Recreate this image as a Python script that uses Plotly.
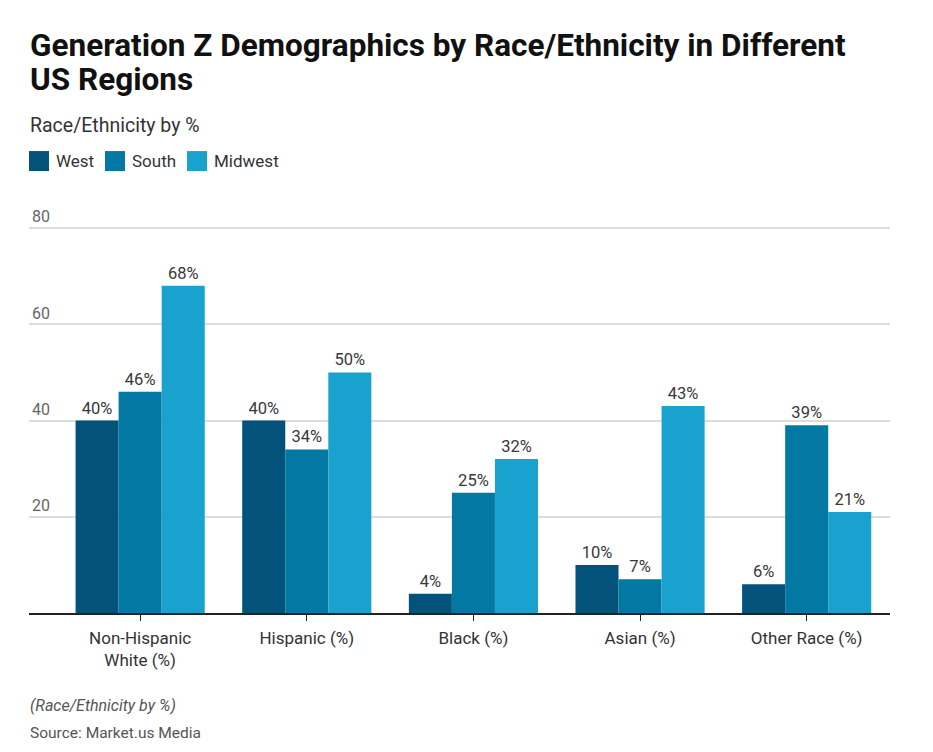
import plotly.graph_objects as go

categories = ["Non-Hispanic<br>White (%)", "Hispanic (%)", "Black (%)", "Asian (%)", "Other Race (%)"]
west = [40, 40, 4, 10, 6]
south = [46, 34, 25, 7, 39]
midwest = [68, 50, 32, 43, 21]
series_names = ["West", "South", "Midwest"]
colors = ["#02527A", "#0278A3", "#19A2CE"]
y_ticks = [20, 40, 60, 80]

W, H = 933, 752
L, R, B = 29, 43, 139
ymax = 85
ppu = 385 / 80
T = H - B - ymax * ppu
ph = H - T - B
pw = W - L - R

def py(pix):
    return (H - B - pix) / ph

def px(pix):
    return (pix - L) / pw

fig = go.Figure()
for name, vals, col in zip(series_names, [west, south, midwest], colors):
    fig.add_trace(go.Bar(
        x=categories, y=vals, name=name, marker=dict(color=col, line=dict(width=0)),
        text=[f"{v}%" for v in vals], textposition="outside", cliponaxis=False,
        textfont=dict(family="Roboto", size=16.5, color="#383838"),
        showlegend=False,
    ))

fig.update_layout(
    width=W, height=H,
    margin=dict(l=L, r=R, t=T, b=B),
    paper_bgcolor="white", plot_bgcolor="white",
    barmode="group", bargap=0.225, bargroupgap=0,
    font=dict(family="Roboto", color="#333333"),
    showlegend=False,
    xaxis=dict(range=[-0.667, 4.5], showline=True, linecolor="#222222", linewidth=1.5,
               ticks="outside", ticklen=6, tickcolor="#222222", ticklabelstandoff=3,
               tickfont=dict(family="Roboto", size=17, color="#333333"),
               showgrid=False, fixedrange=True),
    yaxis=dict(range=[0, ymax], tickvals=y_ticks, ticklabelposition="inside top",
               showgrid=True, gridcolor="#dddddd", gridwidth=1.5, zeroline=False,
               tickfont=dict(family="Roboto", size=16, color="#666666"),
               ticks="", showline=False, fixedrange=True),
)

# legend (swatches + labels)
legend_swatch_x = [29, 105, 187]
for name, col, sx in zip(series_names, colors, legend_swatch_x):
    fig.add_shape(type="rect", xref="paper", yref="paper",
                  x0=px(sx), x1=px(sx + 20), y0=py(171), y1=py(151),
                  fillcolor=col, line=dict(width=0))
    fig.add_annotation(text=name, xref="paper", yref="paper", x=px(sx + 25), y=py(161),
                       xanchor="left", yanchor="middle", showarrow=False,
                       font=dict(family="Roboto", size=17, color="#333333"))

anns = [
    dict(text="<b>Generation Z Demographics by Race/Ethnicity in Different</b>", y=py(45), size=31.5, color="#111111"),
    dict(text="<b>US Regions</b>", y=py(79), size=31.5, color="#111111"),
    dict(text="Race/Ethnicity by %", y=py(125), size=19.5, color="#333333"),
    dict(text="<i>(Race/Ethnicity by %)</i>", y=py(706), size=16, color="#555555"),
    dict(text="Source: Market.us Media", y=py(733), size=15.5, color="#555555"),
]
for a in anns:
    fig.add_annotation(text=a["text"], xref="paper", yref="paper", x=px(28), y=a["y"],
                       xanchor="left", yanchor="middle", showarrow=False,
                       font=dict(family="Roboto", size=a["size"], color=a["color"]))

fig.write_html("out.html", config={"displayModeBar": False},
               post_script="document.body.style.margin='0';")
